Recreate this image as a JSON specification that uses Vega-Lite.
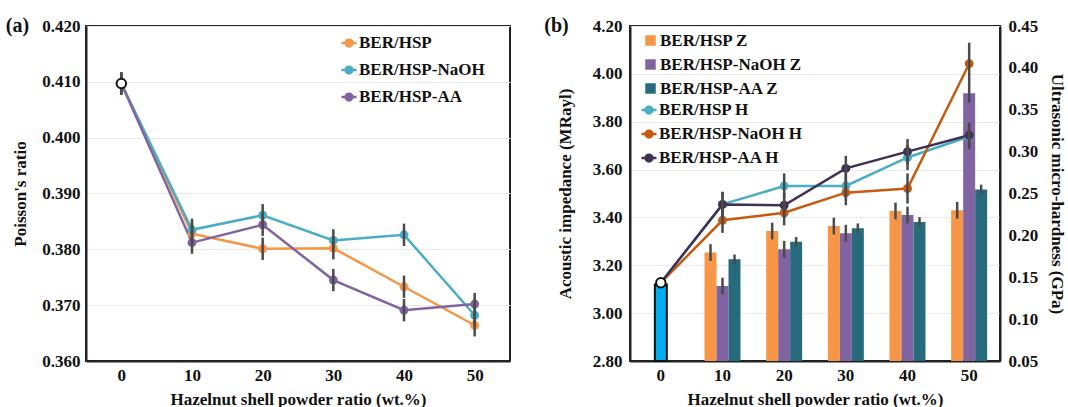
{
  "$schema": "https://vega.github.io/schema/vega-lite/v6.json",
  "background": "white",
  "padding": {"left": 4, "top": 15, "right": 4, "bottom": 4},
  "spacing": 32,
  "config": {
    "font": "Liberation Serif",
    "view": {"stroke": "#222", "strokeWidth": 2},
    "axis": {
      "labelFont": "Liberation Serif", "labelFontWeight": "bold", "labelFontSize": 17, "labelColor": "#111",
      "titleFont": "Liberation Serif", "titleFontWeight": "bold", "titleFontSize": 17, "titleColor": "#111",
      "domainColor": "#222", "domainWidth": 2, "ticks": false, "gridColor": "#e9e9e9", "gridWidth": 1
    },
    "legend": {
      "labelFont": "Liberation Serif", "labelFontWeight": "bold", "labelFontSize": 17, "labelColor": "#111",
      "padding": 0, "symbolStrokeWidth": 2.5, "labelOffset": 1
    },
    "title": {"font": "Liberation Serif", "fontWeight": "bold", "fontSize": 20, "color": "#111"}
  },
  "resolve": {"scale": {"color": "independent", "x": "independent", "y": "independent"}},
  "datasets": {
    "poisson": [
      {"x": "0", "series": "BER/HSP", "v": 0.4097, "err": 0.002},
      {"x": "10", "series": "BER/HSP", "v": 0.3828, "err": 0.002},
      {"x": "20", "series": "BER/HSP", "v": 0.3801, "err": 0.002},
      {"x": "30", "series": "BER/HSP", "v": 0.3802, "err": 0.002},
      {"x": "40", "series": "BER/HSP", "v": 0.3733, "err": 0.002},
      {"x": "50", "series": "BER/HSP", "v": 0.3664, "err": 0.002},
      {"x": "0", "series": "BER/HSP-NaOH", "v": 0.4097, "err": 0.002},
      {"x": "10", "series": "BER/HSP-NaOH", "v": 0.3835, "err": 0.002},
      {"x": "20", "series": "BER/HSP-NaOH", "v": 0.3861, "err": 0.002},
      {"x": "30", "series": "BER/HSP-NaOH", "v": 0.3816, "err": 0.002},
      {"x": "40", "series": "BER/HSP-NaOH", "v": 0.3826, "err": 0.002},
      {"x": "50", "series": "BER/HSP-NaOH", "v": 0.3682, "err": 0.002},
      {"x": "0", "series": "BER/HSP-AA", "v": 0.4097, "err": 0.002},
      {"x": "10", "series": "BER/HSP-AA", "v": 0.3812, "err": 0.002},
      {"x": "20", "series": "BER/HSP-AA", "v": 0.3844, "err": 0.002},
      {"x": "30", "series": "BER/HSP-AA", "v": 0.3745, "err": 0.002},
      {"x": "40", "series": "BER/HSP-AA", "v": 0.3691, "err": 0.002},
      {"x": "50", "series": "BER/HSP-AA", "v": 0.3702, "err": 0.002}
    ],
    "poisson0": [{"x": "0", "v": 0.4097}],
    "z": [
      {"x": "10", "series": "BER/HSP Z", "z": 3.253, "err": 0.035},
      {"x": "20", "series": "BER/HSP Z", "z": 3.343, "err": 0.035},
      {"x": "30", "series": "BER/HSP Z", "z": 3.364, "err": 0.035},
      {"x": "40", "series": "BER/HSP Z", "z": 3.427, "err": 0.035},
      {"x": "50", "series": "BER/HSP Z", "z": 3.43, "err": 0.035},
      {"x": "10", "series": "BER/HSP-NaOH Z", "z": 3.113, "err": 0.035},
      {"x": "20", "series": "BER/HSP-NaOH Z", "z": 3.267, "err": 0.035},
      {"x": "30", "series": "BER/HSP-NaOH Z", "z": 3.334, "err": 0.035},
      {"x": "40", "series": "BER/HSP-NaOH Z", "z": 3.41, "err": 0.035},
      {"x": "50", "series": "BER/HSP-NaOH Z", "z": 3.919, "err": 0.04},
      {"x": "10", "series": "BER/HSP-AA Z", "z": 3.225, "err": 0.02},
      {"x": "20", "series": "BER/HSP-AA Z", "z": 3.298, "err": 0.02},
      {"x": "30", "series": "BER/HSP-AA Z", "z": 3.355, "err": 0.02},
      {"x": "40", "series": "BER/HSP-AA Z", "z": 3.381, "err": 0.02},
      {"x": "50", "series": "BER/HSP-AA Z", "z": 3.517, "err": 0.02}
    ],
    "z0": [{"x": "0", "z": 3.12, "err": 0.012}],
    "h": [
      {"x": "0", "series": "BER/HSP H", "h": 0.1435, "err": 0.004},
      {"x": "10", "series": "BER/HSP H", "h": 0.237, "err": 0.015},
      {"x": "20", "series": "BER/HSP H", "h": 0.259, "err": 0.015},
      {"x": "30", "series": "BER/HSP H", "h": 0.259, "err": 0.015},
      {"x": "40", "series": "BER/HSP H", "h": 0.293, "err": 0.015},
      {"x": "50", "series": "BER/HSP H", "h": 0.318, "err": 0.015},
      {"x": "0", "series": "BER/HSP-NaOH H", "h": 0.1435, "err": 0.004},
      {"x": "10", "series": "BER/HSP-NaOH H", "h": 0.218, "err": 0.015},
      {"x": "20", "series": "BER/HSP-NaOH H", "h": 0.227, "err": 0.015},
      {"x": "30", "series": "BER/HSP-NaOH H", "h": 0.251, "err": 0.015},
      {"x": "40", "series": "BER/HSP-NaOH H", "h": 0.256, "err": 0.018},
      {"x": "50", "series": "BER/HSP-NaOH H", "h": 0.405, "err": 0.025},
      {"x": "0", "series": "BER/HSP-AA H", "h": 0.1435, "err": 0.004},
      {"x": "10", "series": "BER/HSP-AA H", "h": 0.237, "err": 0.015},
      {"x": "20", "series": "BER/HSP-AA H", "h": 0.236, "err": 0.015},
      {"x": "30", "series": "BER/HSP-AA H", "h": 0.28, "err": 0.015},
      {"x": "40", "series": "BER/HSP-AA H", "h": 0.3, "err": 0.015},
      {"x": "50", "series": "BER/HSP-AA H", "h": 0.3195, "err": 0.015}
    ],
    "h0": [{"x": "0", "h": 0.1435}]
  },
  "hconcat": [
    {
      "width": 424,
      "height": 335,
      "title": {"text": "(a)", "anchor": "start", "frame": "bounds", "offset": -19, "dx": -6},
      "encoding": {
        "x": {"field": "x", "type": "ordinal", "scale": {"type": "point", "domain": ["0", "10", "20", "30", "40", "50"], "padding": 0.5},
          "axis": {"title": "Hazelnut shell powder ratio (wt.%)", "labelAngle": 0, "labelPadding": 6, "titlePadding": 8, "grid": false}}
      },
      "layer": [
        {
          "data": {"name": "poisson"},
          "mark": {"type": "line", "strokeWidth": 2.5},
          "encoding": {
            "y": {"field": "v", "type": "quantitative", "title": "Poisson's ratio", "scale": {"domain": [0.36, 0.42], "zero": false},
              "axis": {"title": "Poisson's ratio", "values": [0.36, 0.37, 0.38, 0.39, 0.4, 0.41, 0.42], "format": ".3f", "labelPadding": 6, "titlePadding": 12}},
            "color": {"field": "series", "type": "nominal",
              "scale": {"domain": ["BER/HSP", "BER/HSP-NaOH", "BER/HSP-AA"], "range": ["#F79646", "#4BACC6", "#8064A2"]},
              "legend": {"title": null, "orient": "none", "legendX": 254, "legendY": 8, "rowPadding": 9,
                "symbolType": "M -1 0 L 1 0 M 0.45 0 A 0.45 0.45 0 1 1 -0.45 0 A 0.45 0.45 0 1 1 0.45 0 Z", "symbolSize": 225}}
          }
        },
        {
          "data": {"name": "poisson"},
          "mark": {"type": "point", "filled": true, "size": 80, "opacity": 1},
          "encoding": {
            "y": {"field": "v", "type": "quantitative", "title": "Poisson's ratio"},
            "color": {"field": "series", "type": "nominal"}
          }
        },
        {
          "data": {"name": "poisson"},
          "mark": {"type": "errorbar", "color": "#4a4a4a", "thickness": 2.5},
          "encoding": {
            "y": {"field": "v", "type": "quantitative", "title": "Poisson's ratio"},
            "yError": {"field": "err"}
          }
        },
        {
          "data": {"name": "poisson0"},
          "mark": {"type": "point", "filled": true, "fill": "white", "stroke": "#111", "strokeWidth": 2, "size": 90, "opacity": 1},
          "encoding": {"y": {"field": "v", "type": "quantitative", "title": "Poisson's ratio"}}
        }
      ]
    },
    {
      "width": 370,
      "height": 335,
      "title": {"text": "(b)", "anchor": "start", "frame": "bounds", "offset": -19, "dx": -12},
      "encoding": {
        "x": {"field": "x", "type": "ordinal", "scale": {"type": "band", "domain": ["0", "10", "20", "30", "40", "50"], "paddingInner": 0.4166, "paddingOuter": 0.2083},
          "axis": {"title": "Hazelnut shell powder ratio (wt.%)", "labelAngle": 0, "labelPadding": 6, "titlePadding": 8, "grid": false}}
      },
      "layer": [
        {
          "layer": [
            {
              "data": {"name": "z"},
              "mark": {"type": "bar"},
              "encoding": {
                "xOffset": {"field": "series", "type": "nominal", "scale": {"domain": ["BER/HSP Z", "BER/HSP-NaOH Z", "BER/HSP-AA Z"], "paddingInner": 0, "paddingOuter": 0}},
                "y": {"field": "z", "type": "quantitative", "title": "Acoustic impedance (MRayl)", "scale": {"domain": [2.8, 4.2], "zero": false},
                  "axis": {"orient": "left", "title": "Acoustic impedance (MRayl)", "values": [2.8, 3.0, 3.2, 3.4, 3.6, 3.8, 4.0, 4.2], "format": ".2f", "labelPadding": 8, "titlePadding": 18}},
                "y2": {"datum": 2.8},
                "color": {"field": "series", "type": "nominal",
                  "scale": {"domain": ["BER/HSP Z", "BER/HSP-NaOH Z", "BER/HSP-AA Z"], "range": ["#F79646", "#8064A2", "#276A7C"]},
                  "legend": {"title": null, "orient": "none", "legendX": 12, "legendY": 6, "rowPadding": 6, "symbolType": "square", "symbolSize": 110}}
              }
            },
            {
              "data": {"name": "z0"},
              "mark": {"type": "bar", "width": {"band": 0.3333}, "fill": "#00AEEF", "stroke": "#111", "strokeWidth": 2},
              "encoding": {
                "y": {"field": "z", "type": "quantitative", "title": "Acoustic impedance (MRayl)"},
                "y2": {"datum": 2.8}
              }
            },
            {
              "data": {"name": "z"},
              "mark": {"type": "errorbar", "color": "#4a4a4a", "thickness": 2.5},
              "encoding": {
                "xOffset": {"field": "series", "type": "nominal"},
                "y": {"field": "z", "type": "quantitative", "title": "Acoustic impedance (MRayl)"},
                "yError": {"field": "err"}
              }
            },
            {
              "data": {"name": "z0"},
              "mark": {"type": "errorbar", "color": "#4a4a4a", "thickness": 2.5},
              "encoding": {
                "y": {"field": "z", "type": "quantitative", "title": "Acoustic impedance (MRayl)"},
                "yError": {"field": "err"}
              }
            }
          ]
        },
        {
          "layer": [
            {
              "data": {"name": "h"},
              "mark": {"type": "line", "strokeWidth": 2.5},
              "encoding": {
                "y": {"field": "h", "type": "quantitative", "title": "Ultrasonic micro-hardness (GPa)", "scale": {"domain": [0.05, 0.45], "zero": false},
                  "axis": {"orient": "right", "title": "Ultrasonic micro-hardness (GPa)", "values": [0.05, 0.1, 0.15, 0.2, 0.25, 0.3, 0.35, 0.4, 0.45], "format": ".2f", "grid": false, "labelPadding": 8, "titlePadding": 10}},
                "color": {"field": "series", "type": "nominal",
                  "scale": {"domain": ["BER/HSP H", "BER/HSP-NaOH H", "BER/HSP-AA H"], "range": ["#4BACC6", "#C55A11", "#403152"]},
                  "legend": {"title": null, "orient": "none", "legendX": 10, "legendY": 75, "rowPadding": 6,
                    "symbolType": "M -1 0 L 1 0 M 0.45 0 A 0.45 0.45 0 1 1 -0.45 0 A 0.45 0.45 0 1 1 0.45 0 Z", "symbolSize": 225}}
              }
            },
            {
              "data": {"name": "h"},
              "mark": {"type": "point", "filled": true, "size": 80, "opacity": 1},
              "encoding": {
                "y": {"field": "h", "type": "quantitative", "title": "Ultrasonic micro-hardness (GPa)"},
                "color": {"field": "series", "type": "nominal"}
              }
            },
            {
              "data": {"name": "h"},
              "mark": {"type": "errorbar", "color": "#4a4a4a", "thickness": 2.5},
              "encoding": {
                "y": {"field": "h", "type": "quantitative", "title": "Ultrasonic micro-hardness (GPa)"},
                "yError": {"field": "err"}
              }
            },
            {
              "data": {"name": "h0"},
              "mark": {"type": "point", "filled": true, "fill": "white", "stroke": "#111", "strokeWidth": 2, "size": 90, "opacity": 1},
              "encoding": {"y": {"field": "h", "type": "quantitative", "title": "Ultrasonic micro-hardness (GPa)"}}
            }
          ]
        }
      ],
      "resolve": {"scale": {"y": "independent", "color": "independent"}}
    }
  ]
}
